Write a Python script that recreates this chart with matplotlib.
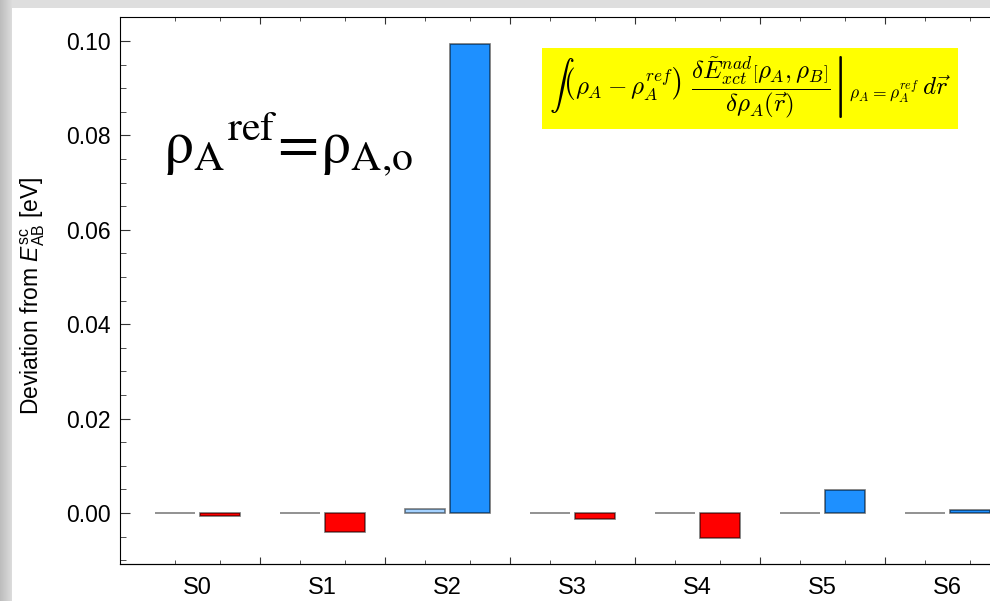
import matplotlib
matplotlib.use("Agg")
import matplotlib.pyplot as plt
import numpy as np
from matplotlib.patches import Rectangle
from matplotlib.ticker import MultipleLocator, FixedLocator, NullFormatter

plt.rcParams['font.family'] = ['Liberation Sans', 'DejaVu Sans']
plt.rcParams['mathtext.fontset'] = 'custom'
plt.rcParams['mathtext.rm'] = 'Liberation Sans'
plt.rcParams['mathtext.it'] = 'Liberation Sans:italic'

# data
states = ['S0', 'S1', 'S2', 'S3', 'S4', 'S5', 'S6']
dev_light = [0.00003, 0.00002, 0.0009, 0.00005, -0.00003, 0.00002, 0.00001]
dev_main = [-0.0007, -0.0040, 0.0994, -0.0012, -0.0052, 0.0049, 0.0006]

x = np.arange(len(states))
off = 0.18
w = 0.32

fig = plt.figure(figsize=(9.9, 6.01), dpi=100)
fig.patch.set_facecolor('#dedede')

# grey frame on the left/top like the screenshot
bg = fig.add_axes([0, 0, 12/990, 1], zorder=-2)
grad = np.linspace(0.74, 0.86, 20)[None, :] * np.ones((50, 1))
bg.imshow(grad, cmap='gray', vmin=0, vmax=1, aspect='auto')
bg.axis('off')
white = fig.add_axes([12/990, 0, 1, (601-8)/601], zorder=-1)
white.axis('off')
white.add_patch(Rectangle((0, 0), 1, 1, transform=white.transAxes,
                          facecolor='white', edgecolor='none'))

ax = fig.add_axes([120/990, 37/601, 904/990, 547/601])
ax.set_facecolor('none')

def col(v, light):
    c = '#1e90ff' if v >= 0 else '#ff0000'
    return (c, 0.4) if light else (c, 1.0)

ax.bar(x - off, dev_light, w, color=[col(v, True) for v in dev_light],
       edgecolor=(0, 0, 0, 0.5), linewidth=1.2)
ax.bar(x + off, dev_main, w, color=[col(v, False) for v in dev_main],
       edgecolor=(0, 0, 0, 0.55), linewidth=1.2)

ax.set_xlim(-0.616, 6.616)
ax.set_ylim(-0.0108, 0.10508)

ax.yaxis.set_major_locator(MultipleLocator(0.02))
ax.yaxis.set_minor_locator(MultipleLocator(0.005))
ax.yaxis.set_major_formatter(plt.FormatStrFormatter('%.2f'))
ax.xaxis.set_major_locator(FixedLocator(x[:-1] + 0.5))
ax.xaxis.set_major_formatter(NullFormatter())
ax.xaxis.set_minor_locator(FixedLocator(np.concatenate([x - off, x + off])))

ax.tick_params(axis='both', which='both', direction='in', top=True, right=True,
               color='#333333')
ax.tick_params(axis='y', which='major', length=7.5, labelsize=16.5, pad=7)
ax.tick_params(axis='y', which='minor', length=4.5)
ax.tick_params(axis='x', which='major', length=5)
ax.tick_params(axis='x', which='minor', length=2.8)

sec = ax.secondary_xaxis('bottom')
sec.set_xticks(x, states)
sec.tick_params(length=0, labelsize=17, pad=9)

ax.set_ylabel(r'Deviation from $E^{\mathrm{sc}}_{\mathrm{AB}}$ [eV]', fontsize=16.5)
ax.yaxis.set_label_coords(-0.081, 0.49)

ax.text(0.0476, 0.735, r'$\mathrm{{\rho_{A}}^{ref}\!=\!\rho_{A{,}o}}$',
        transform=ax.transAxes, fontsize=43, math_fontfamily='stix',
        ha='left', va='baseline')

formula = (r'$\int\left(\rho_A-\rho_A^{ref}\right)\ '
           r'\left.\dfrac{\delta\tilde{E}_{xct}^{nad}\left[\rho_A,\rho_B\right]}'
           r'{\delta\rho_A(\vec{r})}\right|_{\rho_A=\rho_A^{ref}}\,d\vec{r}$')
ax.text(0.697, 0.869, formula, transform=ax.transAxes, fontsize=18,
        math_fontfamily='cm', ha='center', va='center',
        bbox=dict(facecolor='yellow', edgecolor='none', pad=5))

fig.savefig('out.png', dpi=100, facecolor=fig.get_facecolor())
